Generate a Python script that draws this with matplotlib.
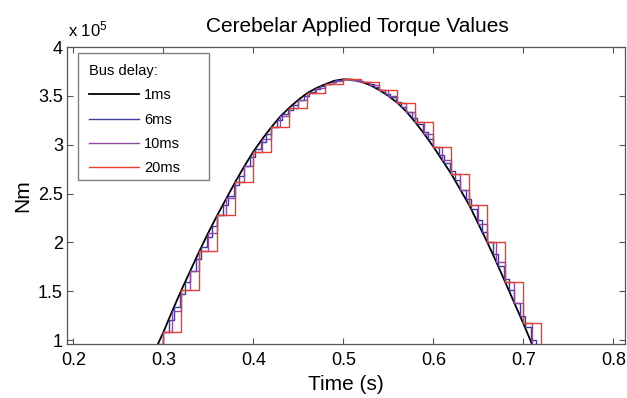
import matplotlib
matplotlib.use("Agg")
import matplotlib.pyplot as plt
from matplotlib.patches import Rectangle

plt.rcParams['font.family'] = ['Liberation Sans', 'DejaVu Sans']
plt.rcParams['mathtext.default'] = 'regular'

# torque every 10 ms (units of 1e5 Nm)
t_10ms = [0.28, 0.29, 0.30, 0.31, 0.32, 0.33, 0.34, 0.35, 0.36, 0.37,
          0.38, 0.39, 0.40, 0.41, 0.42, 0.43, 0.44, 0.45, 0.46, 0.47,
          0.48, 0.49, 0.50, 0.51, 0.52, 0.53, 0.54, 0.55, 0.56, 0.57,
          0.58, 0.59, 0.60, 0.61, 0.62, 0.63, 0.64, 0.65, 0.66, 0.67,
          0.68, 0.69, 0.70, 0.71, 0.72]
torque_10ms = [0.70, 0.88, 1.08, 1.30, 1.51, 1.71, 1.91, 2.10, 2.28, 2.45,
               2.62, 2.78, 2.93, 3.06, 3.18, 3.29, 3.38, 3.46, 3.53, 3.58,
               3.62, 3.655, 3.67, 3.665, 3.645, 3.61, 3.56, 3.50, 3.43, 3.34,
               3.23, 3.11, 2.98, 2.84, 2.70, 2.54, 2.38, 2.19, 2.00, 1.80,
               1.59, 1.38, 1.17, 0.95, 0.75]

# 20 ms bus: every other sample of the 10 ms grid
t_20ms = t_10ms[0::2]
torque_20ms = torque_10ms[0::2]

# 6 ms bus samples
t_6ms = [0.288, 0.294, 0.300, 0.306, 0.312, 0.318, 0.324, 0.330, 0.336, 0.342,
         0.348, 0.354, 0.360, 0.366, 0.372, 0.378, 0.384, 0.390, 0.396, 0.402,
         0.408, 0.414, 0.420, 0.426, 0.432, 0.438, 0.444, 0.450, 0.456, 0.462,
         0.468, 0.474, 0.480, 0.486, 0.492, 0.498, 0.504, 0.510, 0.516, 0.522,
         0.528, 0.534, 0.540, 0.546, 0.552, 0.558, 0.564, 0.570, 0.576, 0.582,
         0.588, 0.594, 0.600, 0.606, 0.612, 0.618, 0.624, 0.630, 0.636, 0.642,
         0.648, 0.654, 0.660, 0.666, 0.672, 0.678, 0.684, 0.690, 0.696, 0.702,
         0.708, 0.714, 0.720]
torque_6ms = [0.84, 0.96, 1.08, 1.21, 1.34, 1.47, 1.59, 1.71, 1.83, 1.95,
              2.06, 2.17, 2.28, 2.38, 2.48, 2.59, 2.68, 2.78, 2.87, 2.96,
              3.03, 3.11, 3.18, 3.25, 3.31, 3.36, 3.41, 3.46, 3.50, 3.54,
              3.57, 3.60, 3.62, 3.64, 3.66, 3.67, 3.67, 3.665, 3.655, 3.64,
              3.62, 3.59, 3.56, 3.52, 3.49, 3.44, 3.39, 3.34, 3.27, 3.21,
              3.13, 3.06, 2.98, 2.90, 2.81, 2.73, 2.64, 2.54, 2.44, 2.34,
              2.23, 2.11, 2.00, 1.88, 1.76, 1.63, 1.51, 1.38, 1.25, 1.13,
              1.00, 0.88, 0.75]

labels = ['1ms', '6ms', '10ms', '20ms']
colors = ['black', '#3c3c9c', '#8e4a9e', '#e8402e']
y_ticks = [1, 1.5, 2, 2.5, 3, 3.5, 4]
y_ticklabels = ['1', '1.5', '2', '2.5', '3', '3.5', '4']
x_ticks = [0.2, 0.3, 0.4, 0.5, 0.6, 0.7, 0.8]

fig = plt.figure(figsize=(6.27, 3.98), dpi=100)
ax = fig.add_axes([0.1069, 0.1357, 0.890, 0.746])

ax.plot(t_10ms, torque_10ms, color=colors[0], lw=1.3, label=labels[0])
ax.step(t_6ms, torque_6ms, where='post', color=colors[1], lw=1.0, label=labels[1])
ax.step(t_10ms, torque_10ms, where='post', color=colors[2], lw=1.0, label=labels[2])
ax.step(t_20ms, torque_20ms, where='post', color=colors[3], lw=1.0, label=labels[3])

ax.set_xlim(0.193, 0.813)
ax.set_ylim(0.96, 4.0)
ax.set_xticks(x_ticks)
ax.set_xticklabels(['0.2', '0.3', '0.4', '0.5', '0.6', '0.7', '0.8'])
ax.set_yticks(y_ticks)
ax.set_yticklabels(y_ticklabels)
ax.tick_params(direction='in', top=True, right=True, length=4, width=0.8,
               color='#555555', labelsize=13)
ax.tick_params(axis='x', pad=6)
ax.tick_params(axis='y', pad=3)
for s in ax.spines.values():
    s.set_color('#555555')
    s.set_linewidth(0.9)

ax.set_xlabel('Time (s)', fontsize=15, labelpad=4)
ax.set_ylabel('Nm', fontsize=15, labelpad=4)
fig.text(0.570, 0.92, 'Cerebelar Applied Torque Values', fontsize=15,
         ha='center', va='baseline')
fig.text(0.108, 0.9095, 'x 10$^{5}$', fontsize=12, ha='left', va='baseline')

leg = ax.legend(loc='upper left', bbox_to_anchor=(0.02, 0.98), borderaxespad=0,
                title='Bus delay:', fontsize=10.5, title_fontsize=10.5,
                alignment='left', handlelength=3.4, handletextpad=0.35,
                labelspacing=0.71, frameon=False, borderpad=0.75)
# MATLAB-style box, wider than the text
ax.add_patch(Rectangle((0.0197, 0.552), 0.235, 0.428, transform=ax.transAxes,
                       fill=True, facecolor='white', edgecolor='#808080',
                       lw=1.0, zorder=4.9))
leg.set_zorder(5)

fig.savefig('out.png', dpi=100)
